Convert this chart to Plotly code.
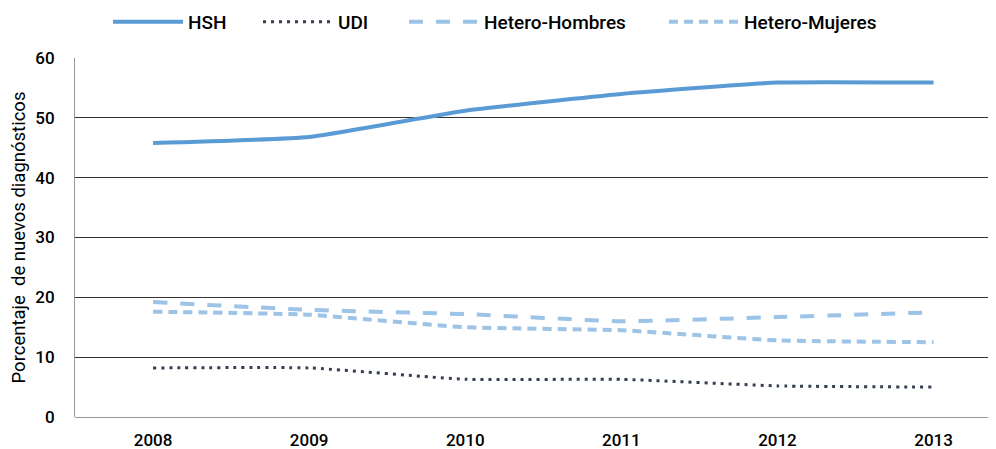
import plotly.graph_objects as go

# data
years = [2008, 2009, 2010, 2011, 2012, 2013]
hsh = [45.8, 46.8, 51.2, 54.0, 55.9, 55.9]
udi = [8.2, 8.2, 6.3, 6.3, 5.2, 5.0]
hetero_hombres = [19.2, 17.9, 17.2, 16.0, 16.7, 17.5]
hetero_mujeres = [17.6, 17.1, 15.0, 14.5, 12.8, 12.5]

series = [
    ("HSH", hsh, "#5b9bd5", 4, "solid"),
    ("UDI", udi, "#333f50", 3, "3px,5px"),
    ("Hetero-Hombres", hetero_hombres, "#9dc3e6", 4, "14px,13px"),
    ("Hetero-Mujeres", hetero_mujeres, "#9dc3e6", 4, "9px,6px"),
]
# each legend entry gets its own legend box so the spacing matches
legend_ids = ["legend", "legend2", "legend3", "legend4"]
legend_x = [100, 250, 396, 656]

# page body has an 8px margin, so the figure is a bit smaller than the window
W, H = 988, 441

fig = go.Figure()
for (name, vals, color, width, dash), lid in zip(series, legend_ids):
    fig.add_trace(go.Scatter(x=years, y=vals, name=name, mode="lines", legend=lid,
                             line=dict(color=color, width=width, dash=dash,
                                       shape="spline", smoothing=0.4)))

font = "Roboto, Liberation Sans, Arial, sans-serif"
fig.update_layout(
    width=W, height=H,
    margin=dict(l=67, r=0, t=50, b=32, autoexpand=False),
    plot_bgcolor="white", paper_bgcolor="white",
    font=dict(family=font, size=17, color="#000", weight=500),
    showlegend=True,
)
for lid, lx in zip(legend_ids, legend_x):
    fig.update_layout({lid: dict(orientation="h", xref="container", yref="container",
                                 x=lx / W, y=1 - 14 / H, xanchor="left", yanchor="middle",
                                 font=dict(size=19, weight=500), itemwidth=70,
                                 bgcolor="rgba(0,0,0,0)")})

fig.update_xaxes(range=[2007.5, 2013.4], tickvals=years, ticktext=[str(y) for y in years],
                 showgrid=False, zeroline=False, showline=False, automargin=False,
                 ticks="outside", ticklen=8, tickcolor="rgba(0,0,0,0)")
fig.update_yaxes(range=[0, 60], dtick=10, showgrid=True, gridcolor="#333", gridwidth=1,
                 zeroline=True, zerolinecolor="#999", zerolinewidth=1,
                 showline=True, linecolor="#999", linewidth=1, automargin=False,
                 ticks="outside", ticklen=16, tickcolor="rgba(0,0,0,0)",
                 title=dict(text="Porcentaje  de nuevos diagnósticos",
                            font=dict(size=18.5, weight=400), standoff=8))

fig.write_html("out.html")
